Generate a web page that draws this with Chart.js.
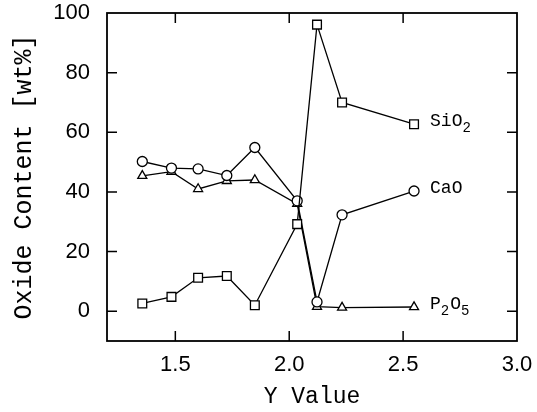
<!DOCTYPE html>
<html><head><meta charset="utf-8">
<script src="https://cdn.jsdelivr.net/npm/chart.js@4/dist/chart.umd.min.js"></script>
<style>html,body{margin:0;padding:0;background:#fff;}</style>
</head><body>
<canvas id="c" width="537" height="412"></canvas>
<script>
// ---- data ----
const yValues = [1.355, 1.483, 1.600, 1.726, 1.849, 2.035, 2.122, 2.232, 2.548];
const sio2    = [2.6, 4.8, 11.2, 11.8, 2.0, 29.2, 96.1, 70.0, 62.7];
const cao     = [50.2, 48.0, 47.7, 45.5, 54.9, 37.0, 3.1, 32.3, 40.3];
const p2o5    = [45.4, 46.8, 41.0, 43.7, 44.0, 36.0, 1.5, 1.2, 1.4];
const seriesNames = ['SiO2', 'CaO', 'P2O5'];
const seriesMarkers = ['rect', 'circle', 'triangle'];
const xTickValues = [1.5, 2.0, 2.5, 3.0];
const yTickValues = [0, 20, 40, 60, 80, 100];
const xInnerTicks = [1.5, 2.0, 2.5];
const yInnerTicks = [0, 20, 40, 60, 80];

const seriesValues = [sio2, cao, p2o5];
const markerRadius = {rect: 6.2, circle: 5, triangle: 5.2};

const datasets = seriesValues.map((vals, i) => ({
  label: seriesNames[i],
  data: yValues.map((x, k) => ({x: x, y: vals[k]})),
  showLine: true,
  borderColor: '#000',
  borderWidth: 1.3,
  pointStyle: seriesMarkers[i],
  pointRadius: markerRadius[seriesMarkers[i]],
  pointBackgroundColor: '#fff',
  pointBorderColor: '#000',
  pointBorderWidth: 1.3,
  fill: false,
  tension: 0
}));

const framePlugin = {
  id: 'frame',
  afterDatasetsDraw(chart) {
    const {ctx, chartArea: a, scales: {x, y}} = chart;
    ctx.save();
    ctx.strokeStyle = '#000';
    ctx.lineWidth = 1.8;
    ctx.strokeRect(a.left, a.top, a.right - a.left, a.bottom - a.top);
    ctx.lineWidth = 1.5;
    const L = 10;
    ctx.beginPath();
    xInnerTicks.forEach(v => {
      const px = x.getPixelForValue(v);
      ctx.moveTo(px, a.bottom); ctx.lineTo(px, a.bottom - L);
      ctx.moveTo(px, a.top); ctx.lineTo(px, a.top + L);
    });
    yInnerTicks.forEach(v => {
      const py = y.getPixelForValue(v);
      ctx.moveTo(a.left, py); ctx.lineTo(a.left + L, py);
      ctx.moveTo(a.right, py); ctx.lineTo(a.right - L, py);
    });
    ctx.stroke();
    // series labels next to the last point
    const big = '18px "Liberation Mono", monospace';
    const small = '14px "Liberation Mono", monospace';
    ctx.fillStyle = '#000';
    ctx.textBaseline = 'middle';
    chart.data.datasets.forEach((ds, i) => {
      const last = ds.data[ds.data.length - 1];
      let px = x.getPixelForValue(last.x) + 16;
      const py = y.getPixelForValue(last.y) - 3;
      for (const ch of seriesNames[i]) {
        const isSub = /[0-9]/.test(ch);
        ctx.font = isSub ? small : big;
        ctx.fillText(ch, px, isSub ? py + 7 : py);
        px += ctx.measureText(ch).width + (isSub ? 1 : 0);
      }
    });
    ctx.restore();
  }
};

new Chart(document.getElementById('c'), {
  type: 'scatter',
  data: {datasets},
  options: {
    responsive: false,
    devicePixelRatio: 1,
    animation: false,
    layout: {padding: {top: 13, right: 20, left: 0, bottom: 0}},
    plugins: {legend: {display: false}, tooltip: {enabled: false}},
    scales: {
      x: {
        type: 'linear', min: 1.2, max: 3.0,
        afterBuildTicks(s) { s.ticks = xTickValues.map(v => ({value: v})); },
        afterFit(s) { s.height = 71; s.paddingLeft = 0; s.paddingRight = 0; },
        grid: {display: false, drawTicks: false},
        border: {display: false},
        ticks: {
          color: '#000', padding: 11,
          font: {family: '"Liberation Sans", Arial, sans-serif', size: 22},
          callback: v => Number(v).toFixed(1)
        },
        title: {
          display: true, text: 'Y Value', color: '#000',
          font: {family: '"Liberation Mono", monospace', size: 23},
          padding: {top: 0, bottom: 1}
        }
      },
      y: {
        type: 'linear', min: -10, max: 100,
        afterBuildTicks(s) { s.ticks = yTickValues.map(v => ({value: v})); },
        afterFit(s) { s.width = 107; s.paddingTop = 0; s.paddingBottom = 0; },
        grid: {display: false, drawTicks: false},
        border: {display: false},
        ticks: {
          color: '#000', padding: 17,
          font: {family: '"Liberation Sans", Arial, sans-serif', size: 22}
        },
        title: {
          display: true, text: 'Oxide Content [wt%]', color: '#000',
          font: {family: '"Liberation Mono", monospace', size: 25},
          padding: {top: 9, bottom: 0}
        }
      }
    }
  },
  plugins: [framePlugin]
});
</script>
</body></html>
